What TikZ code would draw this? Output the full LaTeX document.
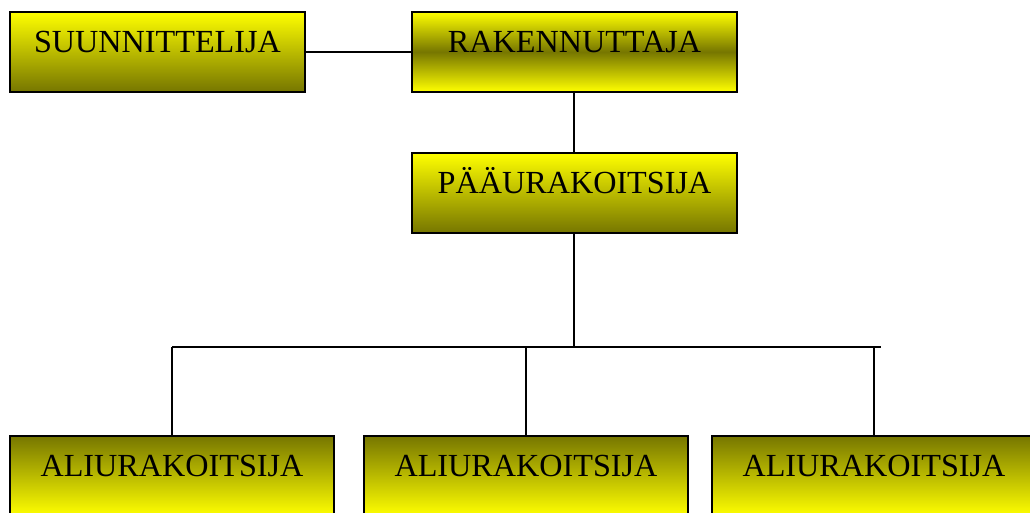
\documentclass[tikz,border=0pt]{standalone}
\usepackage{fontspec}
\setmainfont{Liberation Serif}
\definecolor{boxyellow}{RGB}{255,255,0}
\definecolor{boxolive}{RGB}{118,118,0}
\begin{document}
\begin{tikzpicture}[x=1pt,y=-1pt,
  orgbox/.style={draw=black,line width=1.6pt,rectangle,anchor=north,
    minimum height=80pt,inner ysep=0pt,inner xsep=0pt,
    text height=41pt,text depth=39pt,
    font=\fontsize{32.2}{38}\selectfont},
  downfade/.style={top color=boxyellow,bottom color=boxolive},
  midfade/.style={top color=boxyellow,bottom color=boxyellow,middle color=boxolive},
  upfade/.style={top color=boxolive,bottom color=boxyellow},
  link/.style={draw=black,line width=1.6pt}]
\useasboundingbox (0,0) rectangle (1030,513);
\clip (0,0) rectangle (1030,513);
\node[orgbox,downfade,minimum width=295pt] (suun) at (157.5,11) {SUUNNITTELIJA};
\node[orgbox,midfade,minimum width=325pt] (rak) at (574.5,11) {RAKENNUTTAJA};
\node[orgbox,downfade,minimum width=325pt] (paa) at (574.5,152) {PÄÄURAKOITSIJA};
\node[orgbox,upfade,minimum width=324pt] (a1) at (172,435) {ALIURAKOITSIJA};
\node[orgbox,upfade,minimum width=324pt] (a2) at (526,435) {ALIURAKOITSIJA};
\node[orgbox,upfade,minimum width=324pt] (a3) at (874,435) {ALIURAKOITSIJA};
\coordinate (rakdrop) at (574,91);
\coordinate (bus) at (574,347);
\coordinate (busR) at (881,347);
\draw[link] (suun.east) -- (rak.west);
\draw[link] (rakdrop) -- (rakdrop |- paa.north);
\draw[link] (bus |- paa.south) -- (bus);
\draw[link] (a1.north |- bus) -- (busR);
\draw[link] (a1.north |- bus) -- (a1.north);
\draw[link] (a2.north |- bus) -- (a2.north);
\draw[link] (a3.north |- bus) -- (a3.north);
\end{tikzpicture}
\end{document}
